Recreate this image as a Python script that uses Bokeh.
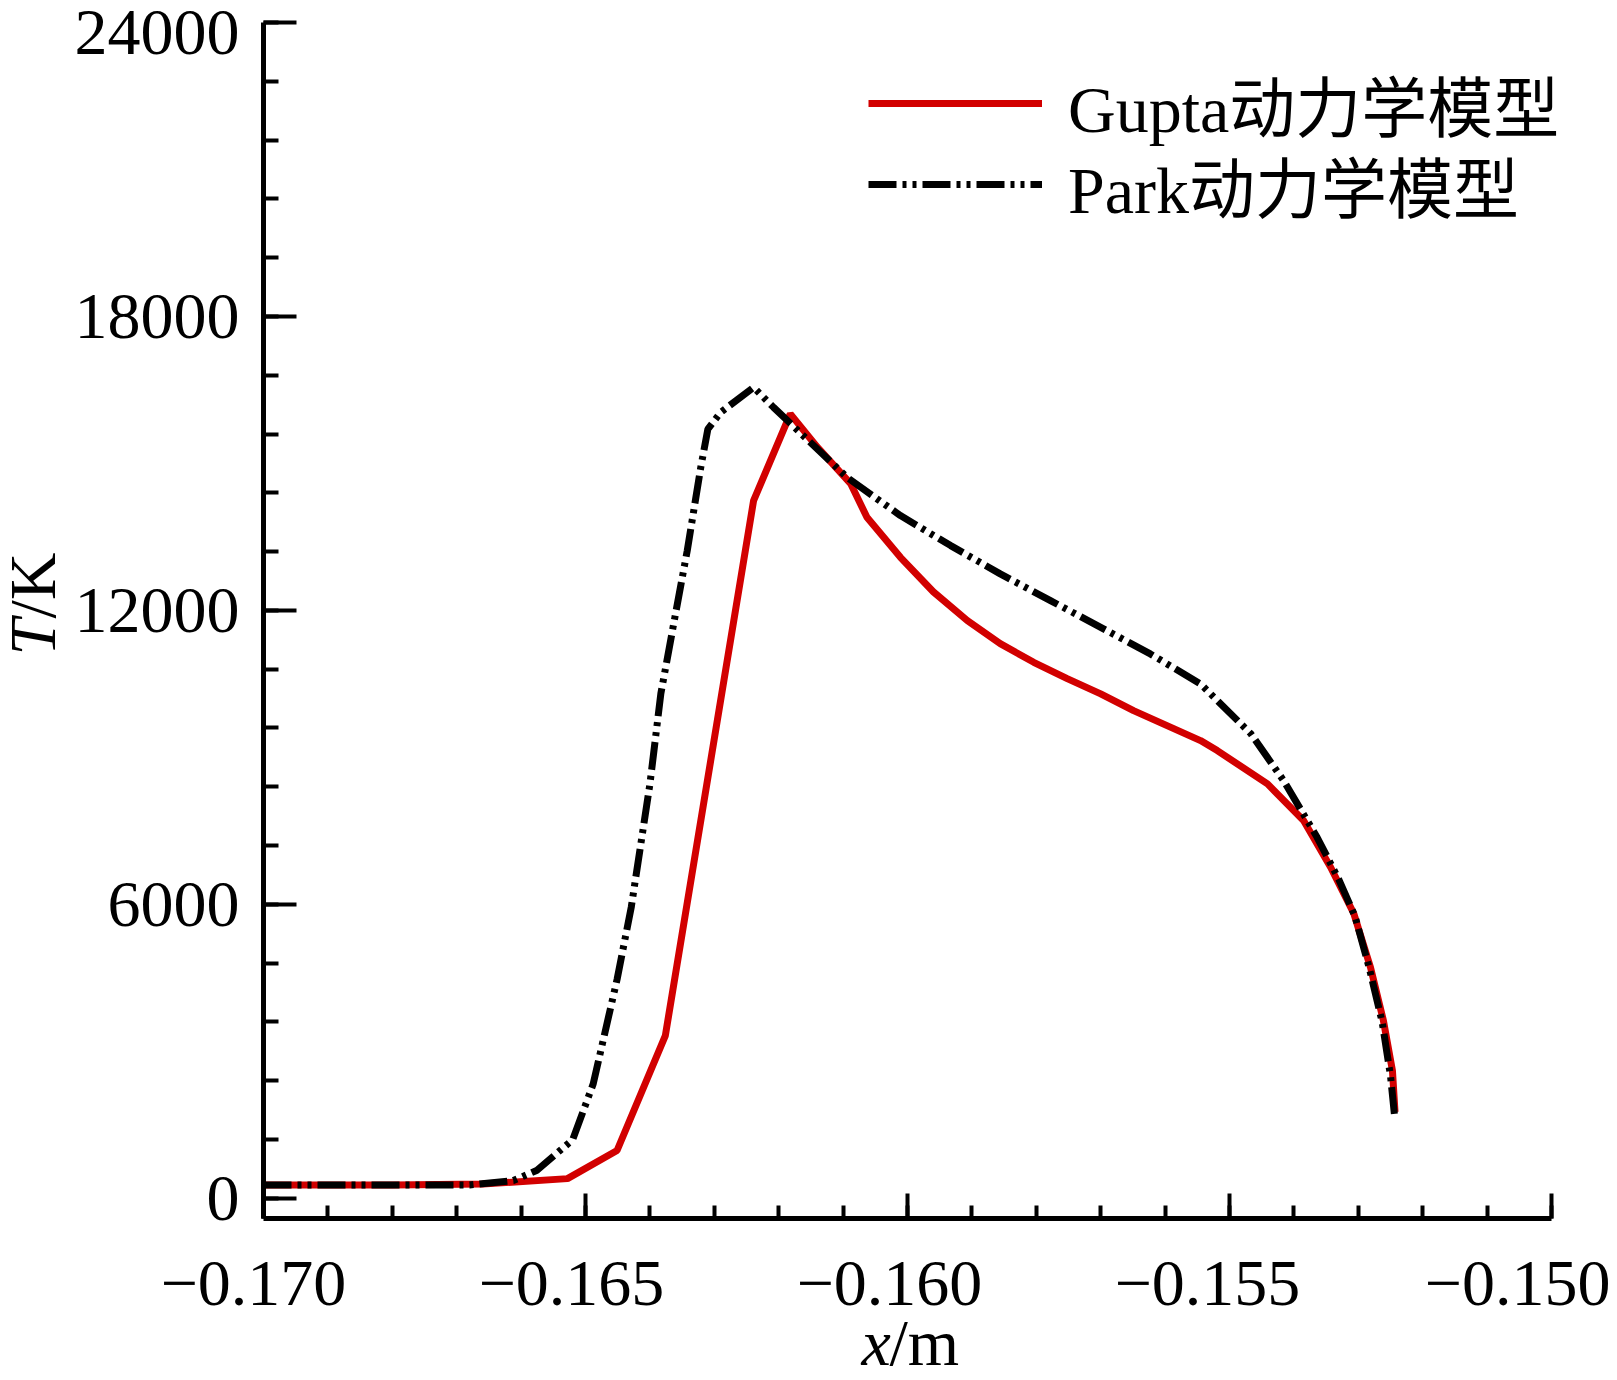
from bokeh.plotting import figure
from bokeh.models import FixedTicker, Label, Legend, LegendItem, Range1d, LinearAxis
from bokeh.embed import file_html
from bokeh.resources import INLINE

# ---------------- data ----------------
gupta_x = [-0.1700, -0.1680, -0.1666, -0.16528, -0.16451, -0.16376, -0.16239,
           -0.16182, -0.16140, -0.16088, -0.16063, -0.16011, -0.15960, -0.15907,
           -0.15856, -0.15804, -0.15752, -0.15700, -0.15649, -0.15597, -0.15545,
           -0.15519, -0.15441, -0.15385, -0.15343, -0.15307, -0.15281, -0.15261,
           -0.15247, -0.15243]
gupta_T = [270, 270, 290, 400, 974, 3321, 14240,
           16010, 15330, 14580, 13900, 13083, 12380, 11790,
           11320, 10940, 10607, 10295, 9954, 9648, 9342,
           9137, 8458, 7709, 6756, 5811, 4709, 3627,
           2606, 1760]

park_x = [-0.1700, -0.1668, -0.16612, -0.16576, -0.16520, -0.16488, -0.16451,
          -0.16429, -0.16400, -0.16383, -0.16363, -0.16342, -0.16321, -0.16310,
          -0.16290, -0.16239, -0.16208, -0.16094, -0.16011, -0.15933, -0.15856,
          -0.15778, -0.15700, -0.15623, -0.15545, -0.15467, -0.15416, -0.15364,
          -0.15330, -0.15305, -0.15283, -0.15263, -0.15250, -0.15244]
park_T = [270, 270, 361, 565, 1192, 2335, 4464,
          5937, 8452, 10300, 11730, 13220, 14920, 15700,
          16043, 16553, 16144, 14716, 13934, 13322, 12744,
          12199, 11654, 11111, 10499, 9484, 8526, 7368,
          6500, 5750, 4700, 3600, 2500, 1720]

series_names = ["Gupta动力学模型", "Park动力学模型"]

x_ticks = [-0.170, -0.165, -0.160, -0.155, -0.150]
x_tick_labels = ["\u22120.170", "\u22120.165", "\u22120.160", "\u22120.155", "\u22120.150"]
y_ticks = [0, 6000, 12000, 18000, 24000]

X0, X1 = -0.170, -0.150
Y0, Y1 = -414, 24000

# ---------------- layout ----------------
W, H = 1612, 1376
BL, BT = 263, 22                 # top-left corner of the visible axes box
FW, FH = 1288, 1196              # size of the visible axes box
BR, BB = W - BL - FW, H - BT - FH
XPP = (X1 - X0) / FW             # data units per pixel
YPP = (Y1 - Y0) / FH

FONT = "Liberation Serif"
CJK_FONT = "Liberation Serif, Noto Sans CJK SC"
FS = "66px"
RED = "#d20000"

p = figure(width=W, height=H, output_backend="svg", toolbar_location=None,
           x_range=Range1d(X0 - BL * XPP, X1 + BR * XPP),
           y_range=Range1d(Y0 - BB * YPP, Y1 + BT * YPP),
           x_axis_location=None, y_axis_location=None,
           min_border_left=0, min_border_right=0,
           min_border_top=0, min_border_bottom=0)
p.grid.visible = False
p.outline_line_color = None
p.background_fill_color = "white"
p.border_fill_color = "white"

x_minor = [round(X0 + i * 0.001, 3) for i in range(21)]
y_minor = [i * 1200 for i in range(21)]

xax = LinearAxis(fixed_location=Y0, bounds=(X0, X1),
                 ticker=FixedTicker(ticks=x_ticks, minor_ticks=x_minor))
yax = LinearAxis(fixed_location=X0, bounds=(Y0, Y1),
                 ticker=FixedTicker(ticks=y_ticks, minor_ticks=y_minor))
for ax in (xax, yax):
    ax.axis_line_width = 5
    ax.axis_line_color = "black"
    ax.major_tick_line_width = 4
    ax.minor_tick_line_width = 4
    ax.major_tick_line_color = "black"
    ax.minor_tick_line_color = "black"
    ax.major_tick_out = 0
    ax.minor_tick_out = 0

xax.major_tick_in = 25
xax.minor_tick_in = 13
xax.major_label_text_font_size = "0px"
xax.major_label_text_color = None

yax.major_tick_in = 33
yax.minor_tick_in = 15
yax.major_label_text_font = FONT
yax.major_label_text_font_size = FS
yax.major_label_text_color = "black"
yax.major_label_standoff = 24
yax.major_label_overrides = {y_ticks[-1]: ""}

p.add_layout(xax, "below")
p.add_layout(yax, "left")

# top y tick label, nudged down slightly so it stays on the canvas
p.add_layout(Label(x=X0 - 24 * XPP, y=y_ticks[-1] - 10 * YPP, text=str(y_ticks[-1]),
                   text_font=FONT, text_font_size=FS, text_color="black",
                   text_align="right", text_baseline="middle"))

# x tick labels
for i, (xv, lab) in enumerate(zip(x_ticks, x_tick_labels)):
    last = i == len(x_ticks) - 1
    xpos = xv + (59 * XPP if last else (-10 - 4 * i) * XPP)
    p.add_layout(Label(x=xpos, y=Y0 - 65 * YPP, text=lab,
                       text_font=FONT, text_font_size=FS, text_color="black",
                       text_align="right" if last else "center",
                       text_baseline="alphabetic"))

# axis titles
p.add_layout(Label(x=X0 - 231 * XPP, y=Y1 - 633 * YPP, text="T", angle=1.5707963,
                   text_font=FONT, text_font_size=FS, text_font_style="italic",
                   text_color="black", text_align="left", text_baseline="alphabetic"))
p.add_layout(Label(x=X0 - 231 * XPP, y=Y1 - 596 * YPP, text="/K", angle=1.5707963,
                   text_font=FONT, text_font_size=FS, text_color="black",
                   text_align="left", text_baseline="alphabetic"))
p.add_layout(Label(x=X0 + 598 * XPP, y=Y0 - 124 * YPP, text="x",
                   text_font=FONT, text_font_size=FS, text_font_style="italic",
                   text_color="black", text_align="left", text_baseline="alphabetic"))
p.add_layout(Label(x=X0 + 626 * XPP, y=Y0 - 124 * YPP, text="/m",
                   text_font=FONT, text_font_size=FS, text_color="black",
                   text_align="left", text_baseline="alphabetic"))

# data lines
r_red = p.line(gupta_x, gupta_T, line_color=RED, line_width=7)
r_blk = p.line(park_x, park_T, line_color="black", line_width=7,
               line_dash="28 6 4 6 4 6")

ROW_H = 130
for name, rend, row_center in ((series_names[0], r_red, 103), (series_names[1], r_blk, 184)):
    lg = Legend(items=[LegendItem(label=name, renderers=[rend])],
                location=(868, H - row_center - ROW_H // 2),
                glyph_width=174, glyph_height=ROW_H, label_height=ROW_H,
                label_standoff=26, spacing=0, padding=0, margin=0,
                border_line_color=None, background_fill_alpha=0,
                label_text_font=CJK_FONT, label_text_font_size=FS,
                label_text_color="black")
    p.add_layout(lg)

open("out.html", "w").write(file_html(p, INLINE))
